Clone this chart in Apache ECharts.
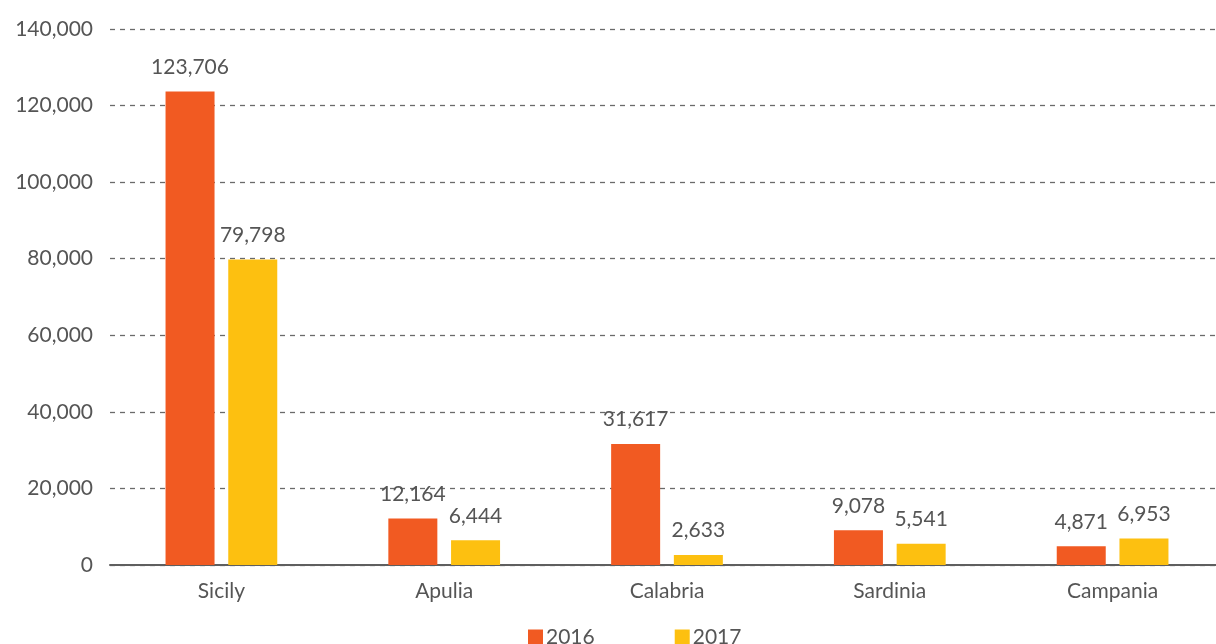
<!DOCTYPE html>
<html>
<head>
<meta charset="utf-8">
<script src="https://cdn.jsdelivr.net/npm/echarts@6/dist/echarts.min.js"></script>
<style>
  html, body { margin: 0; padding: 0; background: #fff; }
  #chart { width: 1216px; height: 644px; }
</style>
</head>
<body>
<div id="chart"></div>
<script>
// Regions and yearly values
const regions = ['Sicily', 'Apulia', 'Calabria', 'Sardinia', 'Campania'];
const values2016 = [123706, 12164, 31617, 9078, 4871];
const values2017 = [79798, 6444, 2633, 5541, 6953];
const seriesNames = ['2016', '2017'];

const FONT = 'Lato, "Open Sans", sans-serif';
const TEXT = '#555555';
const SIZE = 21;

const chart = echarts.init(document.getElementById('chart'));

const labelStyle = {
  show: true,
  position: 'top',
  distance: 14,
  color: TEXT,
  fontFamily: FONT,
  fontSize: SIZE,
  formatter: p => p.value.toLocaleString('en-US')
};

chart.setOption({
  animation: false,
  textStyle: { fontFamily: FONT },
  grid: {
    left: 110, top: 29, width: 1114, height: 536,
    containLabel: false,
    outerBoundsMode: 'none'
  },
  legend: {
    data: seriesNames,
    left: 528,
    top: 627,
    padding: 0,
    itemWidth: 15,
    itemHeight: 16,
    itemGap: 80,
    icon: 'rect',
    textStyle: { color: TEXT, fontFamily: FONT, fontSize: SIZE, padding: [0, 0, 0, -2] }
  },
  xAxis: {
    type: 'category',
    data: regions,
    axisLine: { show: true, lineStyle: { color: '#5f5f5f', width: 2 } },
    axisTick: { show: false },
    axisLabel: { color: TEXT, fontFamily: FONT, fontSize: SIZE, margin: 16 }
  },
  yAxis: {
    type: 'value',
    min: 0,
    max: 140000,
    interval: 20000,
    axisLine: { show: false },
    axisTick: { show: false },
    axisLabel: {
      color: TEXT, fontFamily: FONT, fontSize: SIZE, margin: 17,
      formatter: v => v.toLocaleString('en-US')
    },
    splitLine: { lineStyle: { color: '#6a6a6a', type: [5, 5], width: 1.3 } }
  },
  series: [
    {
      name: seriesNames[0],
      type: 'bar',
      data: values2016,
      barWidth: 49,
      barGap: '28%',
      itemStyle: { color: '#F15A22' },
      label: labelStyle
    },
    {
      name: seriesNames[1],
      type: 'bar',
      data: values2017,
      barWidth: 49,
      itemStyle: { color: '#FDC010' },
      label: labelStyle
    }
  ]
});
</script>
</body>
</html>
